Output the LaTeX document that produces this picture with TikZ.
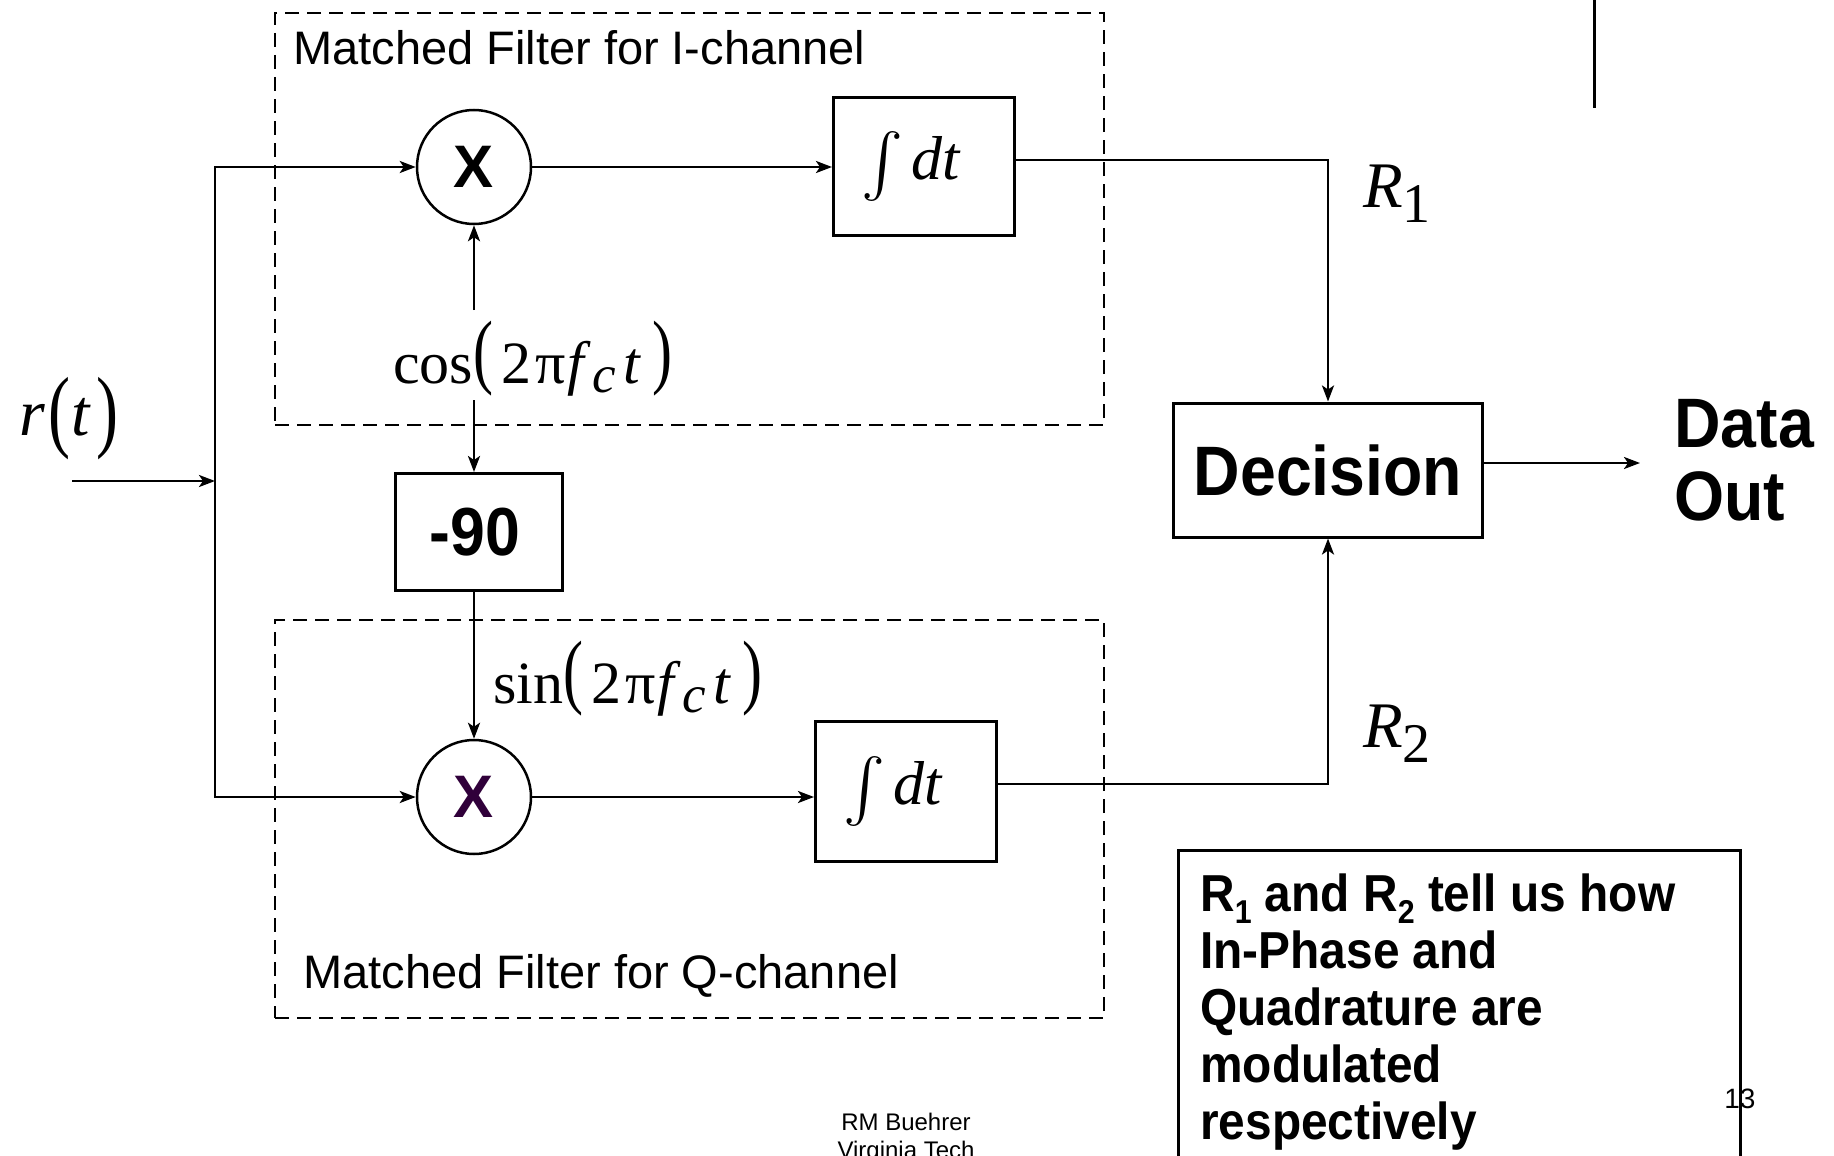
\documentclass[tikz,border=0pt]{standalone}
\usepackage{fontspec}
\usepackage{graphicx}
\setmainfont{Liberation Sans}
\newfontfamily\rmserif{Liberation Serif}
\newfontfamily\boldsans[FakeStretch=0.92]{Liberation Sans}
\usetikzlibrary{arrows.meta,calc}
\definecolor{xpurple}{RGB}{48,0,58}

\newcommand\fsz[1]{\fontsize{#1}{#1}\selectfont}
% tall parentheses of the equation labels
\newcommand\tallparen[2]{\raisebox{#2}{\scalebox{1}[1.38]{#1}}}
% carrier: cos(2 pi f_c t) / sin(2 pi f_c t)
\newcommand\carrier[1]{{\rmserif\fsz{60}#1\tallparen{(}{0.075em}\kern0.14em 2\kern0.06em π\kern0.04em\textit{f}\kern0.02em\raisebox{-0.15em}{\fsz{53}\textit{c}}\kern0.12em\textit{t}\kern0.18em\tallparen{)}{0.075em}}}
% integrator text
\newcommand\intdt{\raisebox{-2pt}{\scalebox{6.3}{$\int$}}\kern8pt{\rmserif\itshape\fsz{62}dt}\kern26pt}
% branch outputs R_1, R_2
\newcommand\rlabel[1]{{\rmserif\fsz{65}\textit{R}\raisebox{-15pt}{\fsz{56}#1}}}
\newcommand\lowsub[1]{\raisebox{-0.22em}{\fontsize{33}{33}\selectfont #1}}

\begin{document}
\begin{tikzpicture}[x=1pt,y=-1pt,line width=2.5pt,
  arr/.style={-{Stealth[length=16pt,width=12pt,inset=4pt]}},
  blockbox/.style={draw,rectangle,line width=3pt,inner sep=0pt},
  mult/.style={draw,circle,minimum size=114pt,inner sep=0pt,line width=2.5pt},
  groupbox/.style={draw,rectangle,dash pattern=on 14pt off 8pt,line width=2.5pt,inner sep=0pt},
  lbl/.style={anchor=base west,inner sep=0pt}]
\useasboundingbox (0,0) rectangle (1834,1156);
\fill[white] (0,0) rectangle (1834,1156);

% matched-filter frames
\node[groupbox,minimum width=829pt,minimum height=412pt] (fI) at (689.5,219) {};
\node[groupbox,minimum width=829pt,minimum height=398pt] (fQ) at (689.5,819) {};
\node[lbl,font=\fsz{47}] (tI) at (292,64) {Matched Filter for I-channel};
\node[lbl,font=\fsz{47}] (tQ) at (302,988) {Matched Filter for Q-channel};

% mixers
\node[mult] (m1) at (474,167) {\fsz{60}\bfseries X};
\node[mult] (m2) at (474,797) {\color{xpurple}\fsz{60}\bfseries X};

% integrators
\node[blockbox,minimum width=181pt,minimum height=138pt] (int1) at (924,166) {\intdt};
\node[blockbox,minimum width=181pt,minimum height=140pt] (int2) at (906,791) {\intdt};

% phase shifter and decision
\node[blockbox,minimum width=167pt,minimum height=117pt,font=\boldsans\bfseries\fsz{68}] (m90) at (479,532) {-90\kern8pt};
\node[blockbox,minimum width=309pt,minimum height=134pt,font=\boldsans\bfseries\fsz{70}] (dec) at (1328,470) {Decision};

% signal labels
\node[lbl] (cosl) at (392,383) {\carrier{cos}};
\node[lbl] (sinl) at (492,703) {\carrier{sin}};
\node[lbl] (rl) at (18,435) {{\rmserif\fsz{66}\textit{r}\kern0.05em\tallparen{(}{-0.08em}\kern0.02em\textit{t}\kern0.08em\tallparen{)}{-0.08em}}};
\node[lbl] (r1l) at (1362,207) {\rlabel{1}};
\node[lbl] (r2l) at (1362,747) {\rlabel{2}};
\node[anchor=north west,inner sep=0pt,align=left,font=\boldsans\bfseries\fontsize{70}{73}\selectfont] (dout) at (1673,398) {Data\\Out};

% connector end points
\coordinate (rin) at (72,481);
\coordinate (jin) at (215,481);
\coordinate (jt) at (215,167);
\coordinate (jb) at (215,797);
\coordinate (c1) at (474,310);
\coordinate (c2) at (474,400);
\coordinate (o1) at (1328,160);
\coordinate (o2) at (1328,784);
\coordinate (dend) at (1640,463);

% connectors
\draw[arr] (rin) -- (jin);
\draw[line cap=rect] (jt) -- (jb);
\draw[arr] (jt) -- (m1.west);
\draw[arr] (jb) -- (m2.west);
\draw[arr] (c1) -- (m1.south);
\draw[arr] (c2) -- (c2 |- m90.north);
\draw[arr] (c2 |- m90.south) -- (m2.north);
\draw[arr] (m1.east) -- (m1.east -| int1.west);
\draw[arr] (m2.east) -- (m2.east -| int2.west);
\draw[arr] (int1.east |- o1) -- (o1) -- (dec.north);
\draw[arr] (int2.east |- o2) -- (o2) -- (dec.south);
\draw[arr] (dec.east |- dend) -- (dend);

% stray rule at the top right
\coordinate (s1) at (1594,0);
\coordinate (s2) at (1594,108);
\draw[line width=3pt] (s1) -- (s2);

% note box
\coordinate (nbl) at (1178,1156);
\coordinate (ntr) at (1740,850);
\draw[line width=3pt] (nbl) |- (ntr) -- (ntr |- nbl);
\node[anchor=north west,inner sep=0pt,align=left,font=\boldsans\bfseries\fontsize{52}{57}\selectfont] (note) at (1199,873)
  {R\lowsub{1} and R\lowsub{2} tell us how\\In-Phase and\\Quadrature are\\modulated\\respectively};

% footer and page number
\node[anchor=north,inner sep=0pt,align=center,font=\fontsize{24}{28}\selectfont] (foot) at (906,1112) {RM Buehrer\\Virginia Tech};
\node[lbl,font=\fsz{28}] (pg) at (1723,1108) {13};
\end{tikzpicture}
\end{document}
